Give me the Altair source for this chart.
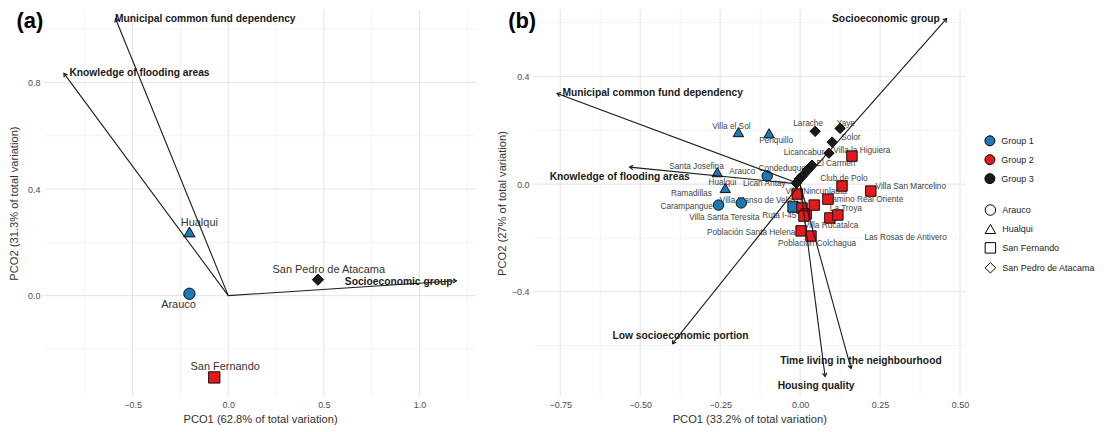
import math
import altair as alt
import pandas as pd

FONT = "Liberation Sans"
GROUP_DOMAIN = ["Group 1", "Group 2", "Group 3"]
GROUP_COLORS = ["#1f78b4", "#e31a1c", "#1a1a1a"]
SITE_DOMAIN = ["Arauco", "Hualqui", "San Fernando", "San Pedro de Atacama"]
SITE_SHAPES = ["circle", "triangle-up", "square", "diamond"]

# ---------------- Panel (a): municipality level ----------------
a_site = ["Arauco", "Hualqui", "San Fernando", "San Pedro de Atacama"]
a_group = ["Group 1", "Group 1", "Group 2", "Group 3"]
a_x = [-0.203, -0.203, -0.073, 0.469]
a_y = [0.007, 0.239, -0.307, 0.060]
a_lab_x = [-0.26, -0.151, -0.016, 0.526]
a_lab_y = [-0.034, 0.273, -0.269, 0.097]

a_vec_name = ["Municipal common fund dependency", "Knowledge of flooding areas", "Socioeconomic group"]
a_vec_x = [-0.589, -0.859, 1.193]
a_vec_y = [1.039, 0.834, 0.056]
a_vec_lab_x = [-0.120, -0.464, 0.891]
a_vec_lab_y = [1.039, 0.834, 0.052]

a_xdom = [-0.964, 1.297]
a_ydom = [-0.378, 1.073]
a_x_major = [-0.5, 0.0, 0.5, 1.0]
a_x_minor = [-0.75, -0.25, 0.25, 0.75, 1.25]
a_y_major = [0.0, 0.4, 0.8]
a_y_minor = [-0.2, 0.2, 0.6, 1.0]

# ---------------- Panel (b): neighbourhood level ----------------
b_site = ["Hualqui"] * 4 + ["Arauco"] * 3 + ["San Fernando"] + ["San Pedro de Atacama"] * 9 + ["San Fernando"] * 13
b_group = ["Group 1"] * 8 + ["Group 3"] * 9 + ["Group 2"] * 13
b_x = [-0.193, -0.097, -0.259, -0.234,
       -0.103, -0.255, -0.184,
       -0.022,
       0.047, 0.125, 0.100, 0.090, 0.037, 0.022, 0.006, -0.003, -0.012,
       0.162, 0.131, 0.221, 0.087, -0.009, 0.006, 0.019, 0.044, 0.093, 0.118, 0.003, 0.034, 0.012]
b_y = [0.193, 0.189, 0.044, -0.015,
       0.030, -0.078, -0.070,
       -0.085,
       0.196, 0.207, 0.156, 0.115, 0.070, 0.052, 0.030, 0.019, 0.004,
       0.104, -0.007, -0.026, -0.056, -0.037, -0.089, -0.111, -0.078, -0.126, -0.115, -0.174, -0.193, -0.119]

b_lab = ["Villa el Sol", "Penquillo", "Larache", "Yaye", "Solor", "Licancabur",
         "Villa la Higuiera", "El Carmen", "Santa Josefina", "Arauco", "Condeduque",
         "Hualqui", "Lican Antay", "Club de Polo", "Villa San Marcelino", "Ramadillas",
         "Villa Nincunlauta", "Camino Real Oriente", "Villa Manso de Velasco", "Carampangue",
         "La Troya", "Villa Santa Teresita", "Ruta I-45", "Villa Rucatalca",
         "Las Rosas de Antivero", "Población Santa Helena", "Población Colchagua"]
b_lab_x = [-0.215, -0.075, 0.025, 0.143, 0.159, 0.012,
           0.193, 0.112, -0.324, -0.181, -0.056,
           -0.243, -0.112, 0.137, 0.346, -0.340,
           0.050, 0.202, -0.118, -0.355,
           0.143, -0.237, -0.065, 0.097,
           0.330, -0.153, 0.053]
b_lab_y = [0.211, 0.159, 0.222, 0.222, 0.170, 0.115,
           0.122, 0.074, 0.063, 0.044, 0.056,
           0.004, 0.000, 0.019, -0.011, -0.037,
           -0.031, -0.058, -0.063, -0.085,
           -0.093, -0.126, -0.119, -0.156,
           -0.200, -0.181, -0.222]

b_vec_name = ["Socioeconomic group", "Municipal common fund dependency", "Knowledge of flooding areas",
              "Low socioeconomic portion", "Time living in the neighbourhood", "Housing quality"]
b_vec_x = [0.458, -0.760, -0.533, -0.399, 0.159, 0.078]
b_vec_y = [0.615, 0.337, 0.063, -0.593, -0.685, -0.715]
b_vec_lab_x = [0.268, -0.461, -0.564, -0.374, 0.190, 0.050]
b_vec_lab_y = [0.615, 0.337, 0.026, -0.563, -0.659, -0.752]

b_xdom = [-0.835, 0.517]
b_ydom = [-0.789, 0.648]
b_x_major = [-0.75, -0.5, -0.25, 0.0, 0.25, 0.5]
b_x_minor = [-0.625, -0.375, -0.125, 0.125, 0.375]
b_y_major = [-0.4, 0.0, 0.4]
b_y_minor = [-0.6, -0.2, 0.2, 0.6]

W, H = 434, 388
ARROW_PATH = "M -1 -0.65 L 0 0 L -1 0.65"
LEG_X = 944


def legend_fill():
    return alt.Legend(title=None, orient="none", legendX=LEG_X, legendY=126,
                      symbolType="circle", symbolStrokeColor="black", symbolStrokeWidth=1,
                      symbolSize=100, labelFontSize=9, labelColor="#222222", rowPadding=4,
                      padding=0, labelOffset=6)


def legend_shape():
    return alt.Legend(title=None, orient="none", legendX=LEG_X, legendY=195,
                      symbolFillColor="white", symbolStrokeColor="black", symbolStrokeWidth=1,
                      symbolSize=110, labelFontSize=9, labelColor="#222222", rowPadding=4,
                      padding=0, labelOffset=6)


def panel(pts, labs, vecs, xdom, ydom, xmaj, xmin, ymaj, ymin, xtitle, ytitle,
          xfmt, yfmt, tag, tagx, ptsize, labsize, labcolor, ytitlepad):
    xs = alt.Scale(domain=xdom, nice=False, zero=False)
    ys = alt.Scale(domain=ydom, nice=False, zero=False)
    xax = alt.Axis(values=xmaj, format=xfmt, title=xtitle, grid=False, ticks=False, domain=False)
    yax = alt.Axis(values=ymaj, format=yfmt, title=ytitle, grid=False, ticks=False, domain=False,
                   titlePadding=ytitlepad)

    sx = W / (xdom[1] - xdom[0])
    sy = H / (ydom[1] - ydom[0])
    vecs = vecs.copy()
    vecs["x0"] = 0.0
    vecs["y0"] = 0.0
    vecs["ang"] = [(math.degrees(math.atan2(-vy * sy, vx * sx)) + 360) % 360
                   for vx, vy in zip(vecs["xe"], vecs["ye"])]

    gx_min = alt.Chart(pd.DataFrame({"v": xmin})).mark_rule(color="#f0f0f0", strokeWidth=0.8).encode(
        x=alt.X("v:Q", scale=xs, axis=xax))
    gx_maj = alt.Chart(pd.DataFrame({"v": xmaj})).mark_rule(color="#e6e6e6", strokeWidth=1.1).encode(
        x=alt.X("v:Q", scale=xs, axis=xax))
    gy_min = alt.Chart(pd.DataFrame({"v": ymin})).mark_rule(color="#f0f0f0", strokeWidth=0.8).encode(
        y=alt.Y("v:Q", scale=ys, axis=yax))
    gy_maj = alt.Chart(pd.DataFrame({"v": ymaj})).mark_rule(color="#e6e6e6", strokeWidth=1.1).encode(
        y=alt.Y("v:Q", scale=ys, axis=yax))

    lab_layer = alt.Chart(labs).mark_text(font=FONT, fontSize=labsize, color=labcolor).encode(
        x=alt.X("lx:Q", scale=xs, axis=xax), y=alt.Y("ly:Q", scale=ys, axis=yax), text="label:N")

    pt_layer = alt.Chart(pts).mark_point(filled=True, stroke="black", strokeWidth=0.9, opacity=1,
                                         size=ptsize).encode(
        x=alt.X("x:Q", scale=xs, axis=xax),
        y=alt.Y("y:Q", scale=ys, axis=yax),
        fill=alt.Fill("group:N", scale=alt.Scale(domain=GROUP_DOMAIN, range=GROUP_COLORS),
                      legend=legend_fill()),
        shape=alt.Shape("site:N", scale=alt.Scale(domain=SITE_DOMAIN, range=SITE_SHAPES),
                        legend=legend_shape()),
    )

    vec_layer = alt.Chart(vecs).mark_rule(color="#1a1a1a", strokeWidth=1.1).encode(
        x=alt.X("x0:Q", scale=xs, axis=xax), y=alt.Y("y0:Q", scale=ys, axis=yax),
        x2="xe:Q", y2="ye:Q")
    head_layer = alt.Chart(vecs).mark_point(shape=ARROW_PATH, filled=False, stroke="#1a1a1a",
                                            strokeWidth=1.2, size=44, opacity=1).encode(
        x=alt.X("xe:Q", scale=xs, axis=xax), y=alt.Y("ye:Q", scale=ys, axis=yax),
        angle=alt.Angle("ang:Q", scale=None))
    vlab_layer = alt.Chart(vecs).mark_text(font=FONT, fontSize=10.3, fontWeight="bold",
                                           color="#1a1a1a").encode(
        x=alt.X("lx:Q", scale=xs, axis=xax), y=alt.Y("ly:Q", scale=ys, axis=yax), text="name:N")

    tag_layer = alt.Chart(pd.DataFrame({"t": [tag]})).mark_text(
        font=FONT, fontSize=22, fontWeight="bold", color="black").encode(
        x=alt.value(tagx), y=alt.value(11), text="t:N")

    return alt.layer(gx_min, gx_maj, gy_min, gy_maj, lab_layer, pt_layer, vec_layer, head_layer,
                     vlab_layer, tag_layer).properties(width=W, height=H)


a_pts = pd.DataFrame({"site": a_site, "group": a_group, "x": a_x, "y": a_y})
a_labs = pd.DataFrame({"label": a_site, "lx": a_lab_x, "ly": a_lab_y})
a_vecs = pd.DataFrame({"name": a_vec_name, "xe": a_vec_x, "ye": a_vec_y, "lx": a_vec_lab_x, "ly": a_vec_lab_y})

b_pts = pd.DataFrame({"site": b_site, "group": b_group, "x": b_x, "y": b_y})
b_labs = pd.DataFrame({"label": b_lab, "lx": b_lab_x, "ly": b_lab_y})
b_vecs = pd.DataFrame({"name": b_vec_name, "xe": b_vec_x, "ye": b_vec_y, "lx": b_vec_lab_x, "ly": b_vec_lab_y})

pa = panel(a_pts, a_labs, a_vecs, a_xdom, a_ydom, a_x_major, a_x_minor, a_y_major, a_y_minor,
           "PCO1 (62.8% of total variation)", "PCO2 (31.3% of total variation)", ".1f", ".1f",
           "(a)", -14, 130, 11, "#333333", 8)
pb = panel(b_pts, b_labs, b_vecs, b_xdom, b_ydom, b_x_major, b_x_minor, b_y_major, b_y_minor,
           "PCO1 (33.2% of total variation)", "PCO2 (27% of total variation)", ".2f", ".1f",
           "(b)", -11, 110, 8.3, "#444444", 4)

chart = alt.hconcat(pa, pb, spacing=19).resolve_scale(
    x="independent", y="independent", fill="shared", shape="shared"
).properties(padding=0).configure(font=FONT).configure_view(stroke=None).configure_axis(
    labelFont=FONT, labelFontSize=9, labelColor="#4d4d4d", labelPadding=4,
    titleFont=FONT, titleFontSize=11.2, titleFontWeight="normal", titleColor="#333333", titlePadding=4
).configure_legend(labelFont=FONT)

chart.save("out.html", embed_options={"renderer": "svg", "actions": False})
